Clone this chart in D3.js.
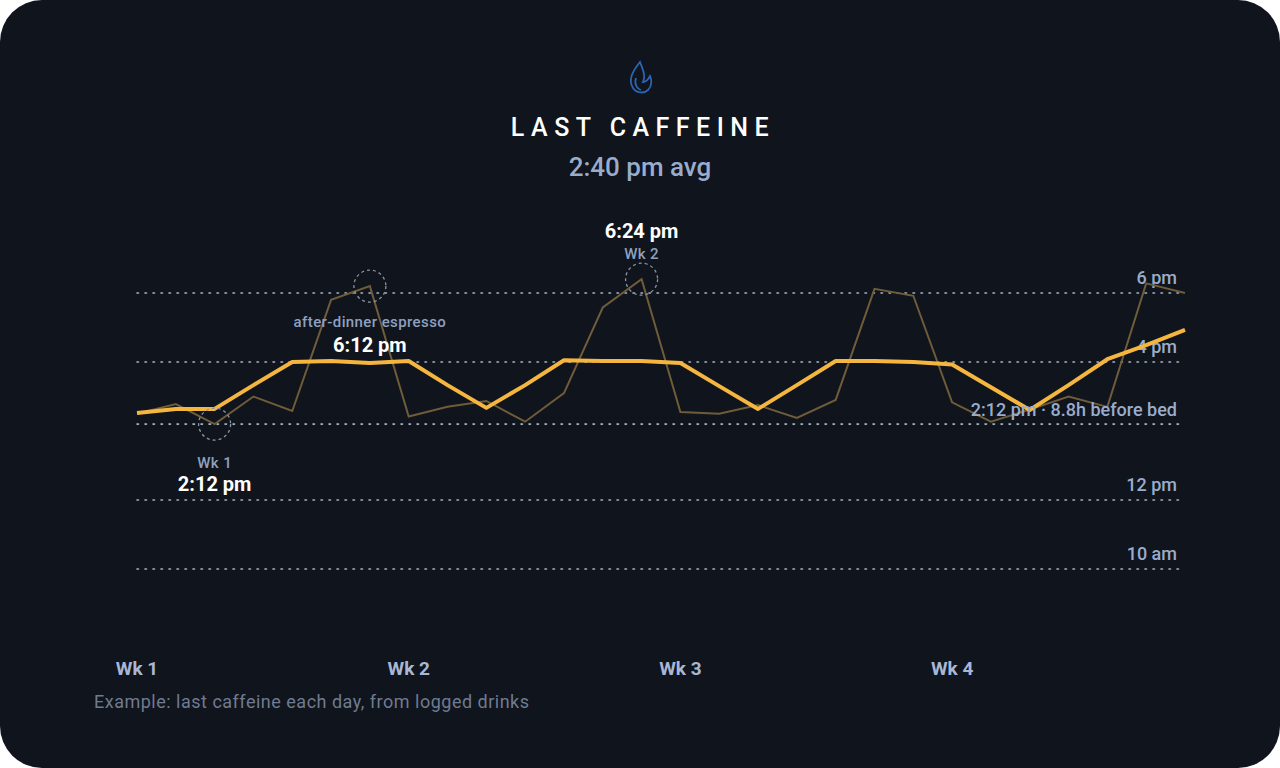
<!DOCTYPE html>
<html lang="en">
<head>
<meta charset="UTF-8">
<title>Last caffeine</title>
<script src="https://d3js.org/d3.v7.min.js"></script>
<style>
  body { margin: 0; background: #ffffff; }
  svg { display: block; font-family: Roboto, "DejaVu Sans", sans-serif; }
</style>
</head>
<body>
<svg width="1280" height="768"></svg>
<script>
// last caffeine per day, in hours of the day
const rawTimes = [14.50, 14.78, 14.20, 15.00, 14.58, 17.80, 18.20, 14.42, 14.70, 14.87,
                  14.27, 15.10, 17.58, 18.40, 14.55, 14.50, 14.75, 14.38, 14.90, 18.12,
                  17.92, 14.83, 14.27, 14.62, 15.00, 14.70, 18.28, 18.00];
const smoothTimes = [14.52, 14.64, 14.64, 15.33, 16.00, 16.03, 15.97, 16.03, 15.33, 14.67,
                     15.33, 16.05, 16.03, 16.03, 15.97, 15.30, 14.64, 15.33, 16.03, 16.03,
                     16.00, 15.93, 15.27, 14.61, 15.33, 16.08, 16.49, 16.93];
const tickHours = [10, 12, 16, 18];
const tickLabels = ["10 am", "12 pm", "4 pm", "6 pm"];
const weekLabels = ["Wk 1", "Wk 2", "Wk 3", "Wk 4"];
const weekDays = [0, 7, 14, 21];
const refHour = 14.2;
const callouts = [
  { day: 2, top: "Wk 1", bottom: "2:12 pm", below: true },
  { day: 6, top: "after-dinner espresso", bottom: "6:12 pm", below: false },
  { day: 13, top: "6:24 pm", bottom: "Wk 2", below: false, swap: true }
];

const svg = d3.select("svg");
svg.append("rect").attr("width", 1280).attr("height", 768).attr("rx", 42).attr("fill", "#10141c");

const x = d3.scaleLinear().domain([0, 27]).range([137, 1185]);
const y = d3.scaleLinear().domain([10, 18]).range([569, 293]);

// header
svg.append("path")
  .attr("d", "M640,62 C632,72 628,80 633,88 C636,93 644,94 648,90 C652,86 652,80 650,76 C648,80 645,82 643,82 C646,76 643,70 640,62 Z M636,78 C634,84 637,89 641,90")
  .attr("fill", "none").attr("stroke", "#2c64b0").attr("stroke-width", 1.8);
svg.append("text").attr("x", 643).attr("y", 136).attr("text-anchor", "middle")
  .attr("fill", "#ffffff").attr("font-size", 25).attr("font-weight", 500)
  .attr("letter-spacing", 6.5).text("LAST CAFFEINE");
svg.append("text").attr("x", 640).attr("y", 176).attr("text-anchor", "middle")
  .attr("fill", "#9aaccc").attr("font-size", 26).attr("font-weight", 500).text("2:40 pm avg");

// grid
const gridHours = tickHours.concat([refHour]);
svg.selectAll(".grid").data(gridHours).enter().append("line")
  .attr("x1", 137).attr("x2", 1185)
  .attr("y1", d => y(d)).attr("y2", d => y(d))
  .attr("stroke", "#a9b3c6").attr("stroke-width", 1.6)
  .attr("stroke-dasharray", "1.5 6.5").attr("stroke-linecap", "round");

svg.selectAll(".tick").data(tickHours).enter().append("text")
  .attr("x", 1177).attr("y", d => y(d) - 9).attr("text-anchor", "end")
  .attr("fill", "#9aaccc").attr("font-size", 18).attr("font-weight", 500)
  .text((d, i) => tickLabels[i]);

const line = d3.line().x((d, i) => x(i)).y(d => y(d));
svg.append("path").datum(rawTimes).attr("d", line)
  .attr("fill", "none").attr("stroke", "#6e5c3a").attr("stroke-width", 2);
svg.append("path").datum(smoothTimes).attr("d", line)
  .attr("fill", "none").attr("stroke", "#f5b63f").attr("stroke-width", 4)
  .attr("stroke-linejoin", "round");

svg.append("text").attr("x", 1177).attr("y", y(refHour) - 8).attr("text-anchor", "end")
  .attr("fill", "#9aaccc").attr("font-size", 18).attr("font-weight", 500)
  .text("2:12 pm · 8.8h before bed");

// callouts
callouts.forEach(c => {
  const cx = x(c.day), cy = y(rawTimes[c.day]);
  svg.append("circle").attr("cx", cx).attr("cy", cy).attr("r", 16)
    .attr("fill", "none").attr("stroke", "#8b93a3").attr("stroke-width", 1.3)
    .attr("stroke-dasharray", "3 3");
  const small = { fill: "#8fa0c0", size: 15, weight: 500 };
  const big = { fill: "#ffffff", size: 20, weight: 700 };
  let lines;
  if (c.below) lines = [[c.top, small, cy + 44], [c.bottom, big, cy + 67]];
  else if (c.swap) lines = [[c.top, big, cy - 41], [c.bottom, small, cy - 20]];
  else lines = [[c.top, small, cy + 41], [c.bottom, big, cy + 66]];
  lines.forEach(([t, s, ty]) => {
    svg.append("text").attr("x", cx).attr("y", ty).attr("text-anchor", "middle")
      .attr("fill", s.fill).attr("font-size", s.size).attr("font-weight", s.weight)
      .attr("letter-spacing", s === small ? 0.4 : 0).text(t);
  });
});

// x labels
svg.selectAll(".wk").data(weekDays).enter().append("text")
  .attr("x", d => x(d)).attr("y", 675).attr("text-anchor", "middle")
  .attr("fill", "#a9b7d6").attr("font-size", 19).attr("font-weight", 700)
  .text((d, i) => weekLabels[i]);

svg.append("text").attr("x", 94).attr("y", 708)
  .attr("fill", "#6f7b91").attr("font-size", 18).attr("letter-spacing", 0.5)
  .text("Example: last caffeine each day, from logged drinks");
</script>
</body>
</html>
